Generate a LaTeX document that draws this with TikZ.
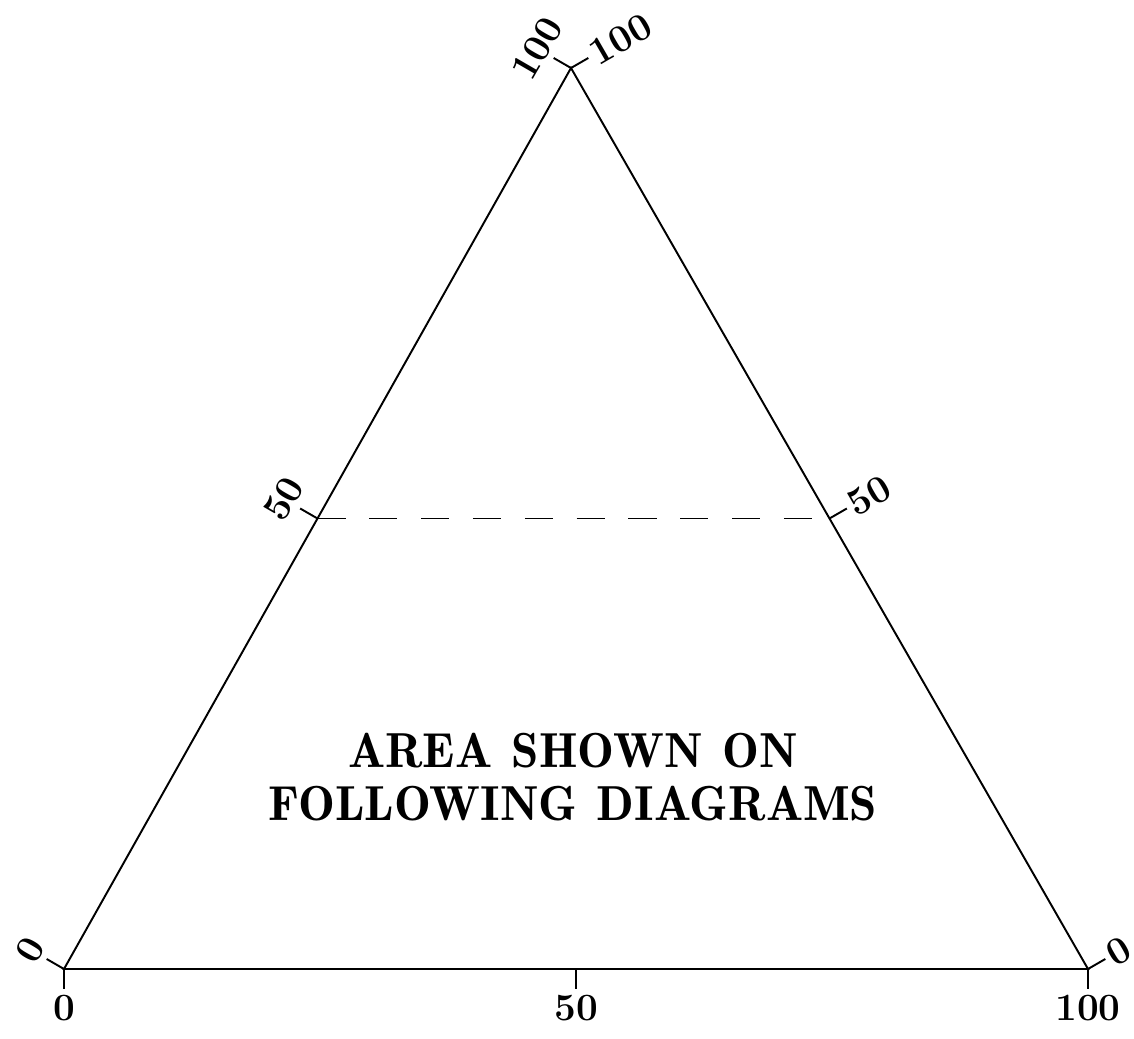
\documentclass[tikz,border=0pt]{standalone}
\usepackage{tikz}
\usetikzlibrary{calc}

\begin{document}
\begin{tikzpicture}[x=0.02cm,y=0.02cm,
  edge/.style={line width=1.1pt},
  tickmark/.style={line width=1.1pt},
  lbl/.style={font=\fontsize{22}{22}\selectfont\bfseries,inner sep=3pt}]
\useasboundingbox (0,0) rectangle (1134,1039);
% corners of the ternary triangle
\coordinate (bl) at (64,70);
\coordinate (br) at (1088,70);
\coordinate (tp) at (571,971);
\draw[edge] (bl) -- (br) -- (tp) -- cycle;
% ticks and labels, bottom side
\foreach \p/\t in {0/0,0.5/50,1/100} {
  \coordinate (b\t) at ($(bl)!\p!(br)$);
  \draw[tickmark] (b\t) -- ++(270:20) node[lbl,anchor=north] (bn\t) {\t};
}
% left side
\foreach \p/\t in {0/0,0.5/50,1/100} {
  \coordinate (l\t) at ($(bl)!\p!(tp)$);
  \draw[tickmark] (l\t) -- ++(150:20) node[lbl,anchor=south,rotate=60] (ln\t) {\t};
}
% right side
\foreach \p/\t in {0/0,0.5/50,1/100} {
  \coordinate (r\t) at ($(br)!\p!(tp)$);
  \draw[tickmark] (r\t) -- ++(30:20) node[lbl,anchor=west,rotate=30,inner sep=2pt] (rn\t) {\t};
}
% 50 level
\draw[edge,dash pattern=on 16pt off 13.5pt] (l50) -- (r50);
\node[font=\fontsize{28}{29}\fontseries{b}\selectfont,align=center] (note) at (573,262)
  {AREA\hspace{0.4em}SHOWN\hspace{0.4em}ON\\[0.05em]FOLLOWING\hspace{0.4em}DIAGRAMS};
\end{tikzpicture}
\end{document}
